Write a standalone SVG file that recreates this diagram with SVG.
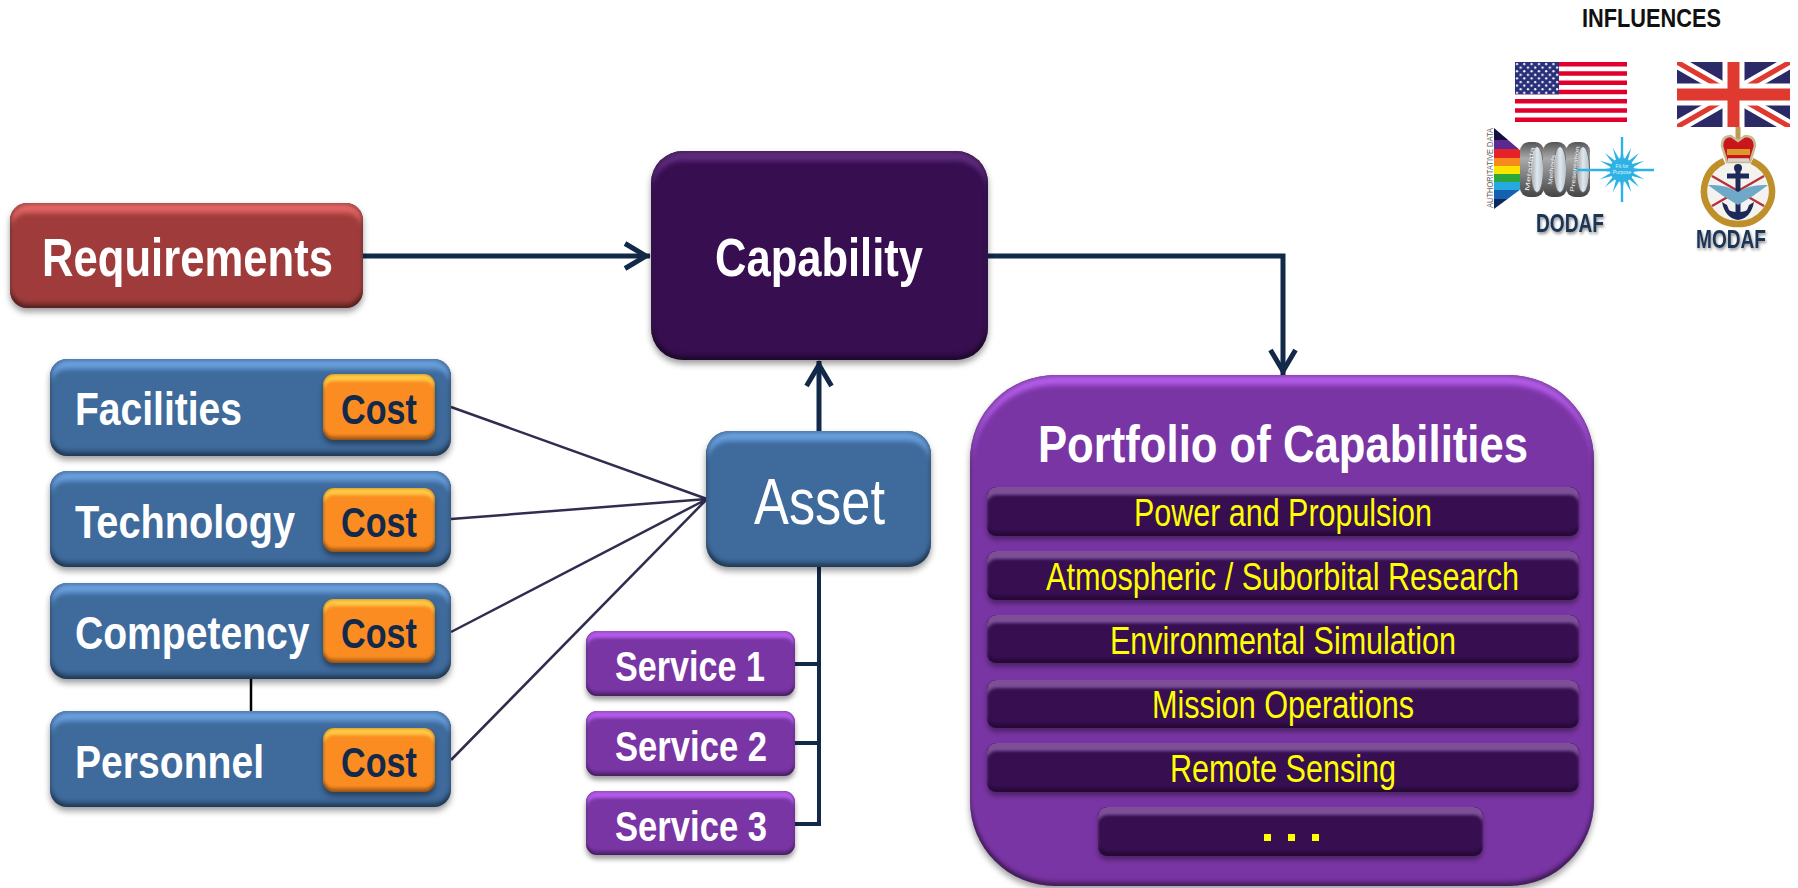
<svg xmlns="http://www.w3.org/2000/svg" width="1798" height="888" viewBox="0 0 1798 888">
<style>
text{font-family:"Liberation Sans",Arial,sans-serif}
.w{fill:#fff;font-weight:700}
.wr{fill:#fff}
.y{fill:#ffff00}
.c{fill:#12294a;font-weight:700;font-size:43px}
.lg{fill:#1b3557;font-weight:700;font-size:25px;filter:url(#ts)}
.req{fill:#9f3c3b;filter:url(#bv)}
.blue{fill:#3e6a9c;filter:url(#bv)}
.org{fill:#fb8c22;filter:url(#bvs)}
.pur{fill:#7a35a5;filter:url(#bvs)}
.port{fill:#7a35a5;filter:url(#bv)}
.dk{fill:#370e50;filter:url(#bv)}
.bar{fill:#370e50;filter:url(#bvb)}
.conn{fill:none;stroke:#12294a;stroke-width:5}
.thin{fill:none;stroke:#12294a;stroke-width:4}
.fan{fill:none;stroke:#2f2d50;stroke-width:2.5}
</style>
<defs>
<filter id="bv" x="-5%" y="-10%" width="110%" height="125%" color-interpolation-filters="sRGB">
<feOffset in="SourceAlpha" dy="10" result="o1"/><feGaussianBlur in="o1" stdDeviation="2.5" result="b1"/>
<feComposite in="SourceAlpha" in2="b1" operator="out" result="e1"/>
<feComponentTransfer in="SourceGraphic" result="lite"><feFuncR type="linear" slope="1.25" intercept=".1"/><feFuncG type="linear" slope="1.25" intercept=".1"/><feFuncB type="linear" slope="1.25" intercept=".1"/></feComponentTransfer>
<feComposite in="lite" in2="e1" operator="in" result="top"/>
<feOffset in="SourceAlpha" dy="-5" result="o2"/><feGaussianBlur in="o2" stdDeviation="2" result="b2"/>
<feComposite in="SourceAlpha" in2="b2" operator="out" result="e2"/>
<feFlood flood-color="#000" flood-opacity=".3"/><feComposite in2="e2" operator="in" result="bot"/>
<feMorphology in="SourceAlpha" operator="erode" radius="2" result="er"/><feGaussianBlur in="er" stdDeviation="1.5" result="b4"/>
<feComposite in="SourceAlpha" in2="b4" operator="out" result="e4"/>
<feFlood flood-color="#000" flood-opacity=".22"/><feComposite in2="e4" operator="in" result="rim"/>
<feOffset in="SourceAlpha" dy="4" result="o3"/><feGaussianBlur in="o3" stdDeviation="3" result="b3"/>
<feFlood flood-color="#000" flood-opacity=".38"/><feComposite in2="b3" operator="in" result="sh"/>
<feMerge><feMergeNode in="sh"/><feMergeNode in="SourceGraphic"/><feMergeNode in="top"/><feMergeNode in="bot"/><feMergeNode in="rim"/></feMerge>
</filter>
<filter id="bvs" x="-5%" y="-15%" width="110%" height="140%" color-interpolation-filters="sRGB">
<feOffset in="SourceAlpha" dy="7" result="o1"/><feGaussianBlur in="o1" stdDeviation="1.8" result="b1"/>
<feComposite in="SourceAlpha" in2="b1" operator="out" result="e1"/>
<feComponentTransfer in="SourceGraphic" result="lite"><feFuncR type="linear" slope="1.25" intercept=".1"/><feFuncG type="linear" slope="1.25" intercept=".1"/><feFuncB type="linear" slope="1.25" intercept=".1"/></feComponentTransfer>
<feComposite in="lite" in2="e1" operator="in" result="top"/>
<feOffset in="SourceAlpha" dy="-4" result="o2"/><feGaussianBlur in="o2" stdDeviation="1.4" result="b2"/>
<feComposite in="SourceAlpha" in2="b2" operator="out" result="e2"/>
<feFlood flood-color="#000" flood-opacity=".28"/><feComposite in2="e2" operator="in" result="bot"/>
<feMorphology in="SourceAlpha" operator="erode" radius="1" result="er"/><feGaussianBlur in="er" stdDeviation="1" result="b4"/>
<feComposite in="SourceAlpha" in2="b4" operator="out" result="e4"/>
<feFlood flood-color="#000" flood-opacity=".2"/><feComposite in2="e4" operator="in" result="rim"/>
<feOffset in="SourceAlpha" dy="4" result="o3"/><feGaussianBlur in="o3" stdDeviation="2.5" result="b3"/>
<feFlood flood-color="#000" flood-opacity=".38"/><feComposite in2="b3" operator="in" result="sh"/>
<feMerge><feMergeNode in="sh"/><feMergeNode in="SourceGraphic"/><feMergeNode in="top"/><feMergeNode in="bot"/><feMergeNode in="rim"/></feMerge>
</filter>
<filter id="bvb" x="-3%" y="-20%" width="106%" height="150%" color-interpolation-filters="sRGB">
<feOffset in="SourceAlpha" dy="8" result="o1"/><feGaussianBlur in="o1" stdDeviation="1.6" result="b1"/>
<feComposite in="SourceAlpha" in2="b1" operator="out" result="e1"/>
<feComponentTransfer in="SourceGraphic" result="lite"><feFuncR type="linear" slope="1.1" intercept=".25"/><feFuncG type="linear" slope="1.1" intercept=".25"/><feFuncB type="linear" slope="1.1" intercept=".25"/></feComponentTransfer>
<feComposite in="lite" in2="e1" operator="in" result="top"/>
<feOffset in="SourceAlpha" dy="-4" result="o2"/><feGaussianBlur in="o2" stdDeviation="1.4" result="b2"/>
<feComposite in="SourceAlpha" in2="b2" operator="out" result="e2"/>
<feFlood flood-color="#000" flood-opacity=".3"/><feComposite in2="e2" operator="in" result="bot"/>
<feOffset in="SourceAlpha" dy="4" result="o3"/><feGaussianBlur in="o3" stdDeviation="2.5" result="b3"/>
<feFlood flood-color="#000" flood-opacity=".35"/><feComposite in2="b3" operator="in" result="sh"/>
<feMerge><feMergeNode in="sh"/><feMergeNode in="SourceGraphic"/><feMergeNode in="top"/><feMergeNode in="bot"/></feMerge>
</filter>
<filter id="ts" x="-10%" y="-20%" width="120%" height="160%"><feDropShadow dx="1" dy="2" stdDeviation="1.5" flood-color="#000" flood-opacity=".45"/></filter>
<filter id="soft" x="-5%" y="-5%" width="110%" height="110%"><feGaussianBlur stdDeviation=".6"/></filter>
<marker id="arr" markerUnits="userSpaceOnUse" markerWidth="34" markerHeight="34" viewBox="-30 -17 34 34" refX="0" refY="0" orient="auto"><path d="M-25,-12.5 L-4,0 L-25,12.5" fill="none" stroke="#12294a" stroke-width="5" stroke-miterlimit="6"/></marker>
<linearGradient id="silver" x1="0" y1="0" x2="0" y2="1"><stop offset="0" stop-color="#555"/><stop offset=".3" stop-color="#aaa"/><stop offset=".6" stop-color="#808080"/><stop offset="1" stop-color="#444"/></linearGradient>
<linearGradient id="glass" x1="0" y1="0" x2="1" y2="0"><stop offset="0" stop-color="#9aa0a6"/><stop offset=".5" stop-color="#dfe8ee"/><stop offset="1" stop-color="#b5c0c8"/></linearGradient>
<clipPath id="ukc"><rect x="1677" y="62" width="113" height="65"/></clipPath>
<clipPath id="prism"><path d="M1494,128 L1521,151 L1521,189 L1494,209Z"/></clipPath>
<pattern id="stars" x="1515" y="62" width="7.3" height="7.2" patternUnits="userSpaceOnUse"><circle cx="2" cy="2" r="1.15" fill="#fff"/><circle cx="5.65" cy="5.6" r="1.15" fill="#fff"/></pattern>
</defs>

<g id="connectors">
<path class="conn" d="M363,256 H650" marker-end="url(#arr)"/>
<path class="conn" d="M988,256 H1283 V375" marker-end="url(#arr)"/>
<path class="conn" d="M819,431 L819,361" marker-end="url(#arr)"/>
<path class="thin" d="M819,567 V824 H795 M795,664 H819 M795,743 H819"/>
<path class="fan" d="M451,407 L707,499 M451,519 L707,499 M451,632 L707,499 M451,760 L707,499"/>
<path fill="none" stroke="#000" stroke-width="2.5" d="M251,679 V711"/>
</g>

<g id="requirements"><rect class="req" x="10" y="203" width="353" height="105" rx="17"/><text class="w" x="42" y="276" font-size="53" textLength="291" lengthAdjust="spacingAndGlyphs">Requirements</text></g>
<g id="capability"><rect class="dk" x="651" y="151" width="337" height="209" rx="32"/><text class="w" x="715" y="276" font-size="53" textLength="208" lengthAdjust="spacingAndGlyphs">Capability</text></g>

<g id="facilities"><rect class="blue" x="50" y="359" width="401" height="97" rx="17"/><text class="w" x="75" y="425" font-size="46" textLength="167" lengthAdjust="spacingAndGlyphs">Facilities</text><rect class="org" x="323" y="374" width="112" height="66" rx="11"/><text class="c" x="341" y="424" textLength="76" lengthAdjust="spacingAndGlyphs">Cost</text></g>
<g id="technology"><rect class="blue" x="50" y="471" width="401" height="96" rx="17"/><text class="w" x="75" y="538" font-size="46" textLength="220" lengthAdjust="spacingAndGlyphs">Technology</text><rect class="org" x="323" y="488" width="112" height="64" rx="11"/><text class="c" x="341" y="537" textLength="76" lengthAdjust="spacingAndGlyphs">Cost</text></g>
<g id="competency"><rect class="blue" x="50" y="583" width="401" height="96" rx="17"/><text class="w" transform="translate(75,649) scale(.85,1)" x="0" y="0" font-size="46">Competency</text><rect class="org" x="323" y="599" width="112" height="64" rx="11"/><text class="c" x="341" y="648" textLength="76" lengthAdjust="spacingAndGlyphs">Cost</text></g>
<g id="personnel"><rect class="blue" x="50" y="711" width="401" height="96" rx="17"/><text class="w" x="75" y="778" font-size="46" textLength="189" lengthAdjust="spacingAndGlyphs">Personnel</text><rect class="org" x="323" y="728" width="112" height="64" rx="11"/><text class="c" x="341" y="777" textLength="76" lengthAdjust="spacingAndGlyphs">Cost</text></g>

<g id="asset"><rect class="blue" x="706" y="431" width="225" height="136" rx="23"/><text class="wr" x="754" y="524" font-size="65" textLength="131" lengthAdjust="spacingAndGlyphs">Asset</text></g>
<g id="service-1"><rect class="pur" x="586" y="631" width="209" height="65" rx="11"/><text class="w" x="615" y="681" font-size="43" textLength="150" lengthAdjust="spacingAndGlyphs">Service 1</text></g>
<g id="service-2"><rect class="pur" x="586" y="711" width="209" height="65" rx="11"/><text class="w" x="615" y="761" font-size="43" textLength="152" lengthAdjust="spacingAndGlyphs">Service 2</text></g>
<g id="service-3"><rect class="pur" x="586" y="791" width="209" height="64" rx="11"/><text class="w" x="615" y="841" font-size="43" textLength="152" lengthAdjust="spacingAndGlyphs">Service 3</text></g>

<g id="portfolio"><rect class="port" x="970" y="375" width="624" height="511" rx="85"/><text class="w" x="1038" y="462" font-size="52" textLength="490" lengthAdjust="spacingAndGlyphs">Portfolio of Capabilities</text></g>
<g id="power"><rect class="bar" x="987" y="487" width="592" height="49" rx="9"/><text class="y" x="1134" y="526" font-size="38" textLength="298" lengthAdjust="spacingAndGlyphs">Power and Propulsion</text></g>
<g id="atmospheric"><rect class="bar" x="987" y="551" width="592" height="49" rx="9"/><text class="y" x="1046" y="590" font-size="38" textLength="473" lengthAdjust="spacingAndGlyphs">Atmospheric / Suborbital Research</text></g>
<g id="environmental"><rect class="bar" x="987" y="615" width="592" height="48" rx="9"/><text class="y" x="1110" y="654" font-size="38" textLength="346" lengthAdjust="spacingAndGlyphs">Environmental Simulation</text></g>
<g id="mission"><rect class="bar" x="987" y="680" width="592" height="48" rx="9"/><text class="y" x="1152" y="718" font-size="38" textLength="262" lengthAdjust="spacingAndGlyphs">Mission Operations</text></g>
<g id="remote"><rect class="bar" x="987" y="743" width="592" height="49" rx="9"/><text class="y" x="1170" y="782" font-size="38" textLength="226" lengthAdjust="spacingAndGlyphs">Remote Sensing</text></g>
<g id="more"><rect class="bar" x="1098" y="807" width="385" height="49" rx="9"/><path class="y" d="M1264,834h7v7h-7zM1288,834h7v7h-7zM1312,834h7v7h-7z"/></g>

<g id="influences"><text x="1582" y="27" font-size="25" font-weight="700" fill="#111" textLength="139" lengthAdjust="spacingAndGlyphs">INFLUENCES</text></g>

<g id="us-flag">
<rect x="1515" y="62" width="112" height="60" fill="#fff"/>
<path fill="#e1002d" d="M1515,62h112v4.6h-112zM1515,71.2h112v4.6h-112zM1515,80.5h112v4.6h-112zM1515,89.7h112v4.6h-112zM1515,98.9h112v4.6h-112zM1515,108.2h112v4.6h-112zM1515,117.4h112v4.6h-112z"/>
<rect x="1515" y="62" width="44" height="32.3" fill="#29307a"/>
<rect x="1515" y="62" width="44" height="32.3" fill="url(#stars)"/>
</g>
<g id="uk-flag" clip-path="url(#ukc)">
<rect x="1677" y="62" width="113" height="65" fill="#2b2a66"/>
<path d="M1677,62 L1790,127 M1790,62 L1677,127" stroke="#fff" stroke-width="13"/>
<path d="M1677,62 L1790,127 M1790,62 L1677,127" stroke="#e0392f" stroke-width="5"/>
<path d="M1733.5,62 V127 M1677,94.5 H1790" stroke="#fff" stroke-width="22"/>
<path d="M1733.5,62 V127 M1677,94.5 H1790" stroke="#e0392f" stroke-width="12"/>
</g>

<g id="dodaf">
<g filter="url(#soft)">
<g clip-path="url(#prism)">
<rect x="1494" y="128" width="28" height="12" fill="#181040"/><rect x="1494" y="140" width="28" height="9" fill="#5a2a90"/><rect x="1494" y="149" width="28" height="9" fill="#e5202a"/><rect x="1494" y="158" width="28" height="8" fill="#f78a1e"/><rect x="1494" y="166" width="28" height="8" fill="#fbe300"/><rect x="1494" y="174" width="28" height="8" fill="#2aa83a"/><rect x="1494" y="182" width="28" height="8" fill="#27a8e0"/><rect x="1494" y="190" width="28" height="9" fill="#1660b0"/><rect x="1494" y="199" width="28" height="10" fill="#0f2a60"/>
</g>
<rect x="1520" y="142" width="24" height="55" rx="9" fill="url(#silver)"/><ellipse cx="1537" cy="169.500" rx="6.500" ry="23" fill="url(#glass)" stroke="#666"/>
<rect x="1543" y="142" width="24" height="55" rx="9" fill="url(#silver)"/><ellipse cx="1560" cy="169.500" rx="6.500" ry="23" fill="url(#glass)" stroke="#666"/>
<rect x="1566" y="142" width="24" height="55" rx="9" fill="url(#silver)"/><ellipse cx="1583" cy="169.500" rx="6.500" ry="23" fill="url(#glass)" stroke="#666"/>
<path d="M1575,170 H1654 M1622,137 V202" stroke="#2fb2e6" stroke-width="2.400" fill="none"/>
<path fill="#2fb2e6" transform="translate(1622,170)" d="M24,0 L9.800,1.950 L22.200,9.200 L8.300,5.600 L17,17 L5.600,8.300 L9.200,22.200 L1.950,9.800 L0,24 L-1.950,9.800 L-9.200,22.200 L-5.600,8.300 L-17,17 L-8.300,5.600 L-22.200,9.200 L-9.800,1.950 L-24,0 L-9.800,-1.950 L-22.200,-9.200 L-8.300,-5.600 L-17,-17 L-5.600,-8.300 L-9.200,-22.200 L-1.950,-9.800 L0,-24 L1.950,-9.800 L9.200,-22.200 L5.600,-8.300 L17,-17 L8.300,-5.600 L22.200,-9.200 L9.800,-1.950Z"/>
<circle cx="1622" cy="170" r="12" fill="#2fb2e6"/>
</g>
<text x="0" y="0" transform="translate(1493,208) rotate(-90)" font-size="8.500" fill="#666" textLength="80" lengthAdjust="spacingAndGlyphs">AUTHORITATIVE DATA</text>
<text x="0" y="0" transform="translate(1529,191) rotate(-83)" font-size="6" fill="#eee" textLength="44" lengthAdjust="spacingAndGlyphs">Metadata</text>
<text x="0" y="0" transform="translate(1552,185) rotate(-83)" font-size="6" fill="#eee" textLength="30" lengthAdjust="spacingAndGlyphs">Methods</text>
<text x="0" y="0" transform="translate(1574,192) rotate(-83)" font-size="6" fill="#eee" textLength="46" lengthAdjust="spacingAndGlyphs">Presentation</text>
<text x="1622" y="168" font-size="5" fill="#dff4ff" text-anchor="middle">Fit for</text>
<text x="1622" y="174" font-size="5" fill="#dff4ff" text-anchor="middle">Purpose</text>
<text class="lg" x="1536" y="232" textLength="68" lengthAdjust="spacingAndGlyphs">DODAF</text>
</g>

<g id="modaf">
<g filter="url(#soft)">
<path d="M1724,161 A34,33 0 1 0 1752,161" fill="#f4f2ee" stroke="#bf8f2c" stroke-width="6.500"/>
<path d="M1712,176 L1764,206 M1764,176 L1712,206" stroke="#b5323c" stroke-width="2.400"/>
<path d="M1738,166 V214 M1727,176 H1749" stroke="#1f2a5a" stroke-width="5" fill="none"/>
<circle cx="1738" cy="168" r="4" fill="#1f2a5a"/>
<path d="M1708,185 Q1726,184 1738,192 Q1750,184 1768,185 L1753,196 L1738,205 L1723,196Z" fill="#6fa8c8"/>
<path d="M1722,202 Q1725,218 1738,220 Q1751,218 1754,202 L1749,205 L1747,210 Q1744,212 1738,212 Q1732,212 1729,210 L1727,205Z" fill="#1f2a5a"/>
<path d="M1738,127 V140" stroke="#c09a50" stroke-width="5"/>
<path d="M1727,162 L1722,146 Q1722,136 1731,136 L1738,141 L1745,136 Q1755,136 1755,146 L1750,162Z" fill="#c8141e" stroke="#c9b994" stroke-width="2.500"/>
<path d="M1727,152 H1750" stroke="#d99a2b" stroke-width="6"/>
<path d="M1728,160 H1749" stroke="#d8d4c8" stroke-width="3.500"/>
</g>
<text class="lg" x="1696" y="248" textLength="70" lengthAdjust="spacingAndGlyphs">MODAF</text>
</g>
</svg>
